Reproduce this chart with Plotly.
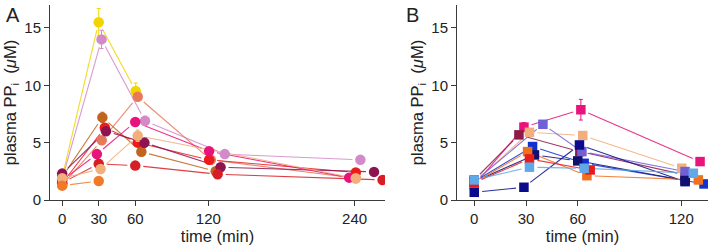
import math
import plotly.graph_objects as go

# ---------------- Panel A data (circles) ----------------
a_names = ["yellow", "orchid", "salmon", "brown", "red", "maroon", "pink", "crimson", "peach", "orange"]
a_colors = ["#F2D500", "#D28AC8", "#E8785A", "#C0641E", "#EC1C1C", "#8E1450",
            "#E8147C", "#D81E24", "#F2AE7C", "#F07A2A"]
a_times = [
    [0, 30, 60.4, None, None],
    [0, 32.3, 68, 133.5, 244.8],
    [0, 32.5, 62, 122, 241],
    [0, 33, 65, 126, None],
    [0, 35, 62, 120.6, 241],
    [0, 36, 67.5, 130, 256],
    [0, 28.5, 60, 120.6, 235.6],
    [0, 30, 60, 127.6, 263],
    [0, 31.5, 62, None, 241],
    [0, 30, None, None, None],
]
a_values = [
    [2.0, 15.5, 9.5, None, None],
    [1.8, 14.0, 6.9, 4.0, 3.5],
    [1.3, 5.2, 9.0, 3.5, 1.9],
    [2.0, 7.2, 4.2, 2.5, None],
    [1.45, 6.3, 5.0, 3.5, 2.4],
    [2.3, 6.0, 5.0, 2.85, 2.45],
    [1.7, 4.0, 6.8, 4.25, 1.95],
    [1.5, 3.15, 3.0, 2.25, 1.75],
    [1.9, 2.7, 5.6, None, 1.9],
    [1.25, 1.65, None, None, None],
]
a_errors = [
    [0, 1.2, 0.7, 0, 0],
    [0, 0.8, 0.4, 0, 0],
    [0, 0, 0, 0, 0],
    [0, 0.45, 0, 0, 0],
    [0, 0.3, 0, 0, 0],
    [0, 0, 0.4, 0, 0],
    [0, 0, 0, 0, 0],
    [0, 0, 0, 0, 0],
    [0, 0, 0.5, 0, 0],
    [0, 0, 0, 0, 0],
]

# ---------------- Panel B data (squares) ----------------
b_names = ["pink", "maroon", "peach", "purple", "navy2", "blue", "navy", "orange", "red", "lightblue"]
b_colors = ["#E8147C", "#8E1A4A", "#F2AE7C", "#7060D8", "#0A0A8C", "#1030D0",
            "#10106E", "#F07020", "#E81C1C", "#60A8E8"]
b_times = [
    [0, 28.8, 61.8, 130.9],
    [0, 25.9, 61.2, 122.2],
    [0, 32, 62.9, 120.3],
    [0, 39.8, 62.4, 122.2],
    [0, 28.8, 61, 122.2],
    [0, 33.8, 63.7, 133.2],
    [0, 34.9, 60, 122.2],
    [0, 30.9, 65.3, 129.9],
    [0, 32, 67.2, None],
    [0, 32, 63.7, 127],
]
b_values = [
    [1.3, 6.35, 7.87, 3.35],
    [1.75, 5.68, 4.22, 2.19],
    [1.5, 5.9, 5.62, 2.77],
    [1.6, 6.6, 4.22, 2.48],
    [0.67, 1.11, 4.8, 1.6],
    [1.6, 4.66, 3.2, 1.4],
    [1.6, 3.93, 3.41, 1.7],
    [1.5, 4.22, 2.12, 1.75],
    [1.5, 3.58, 2.62, None],
    [1.75, 2.86, 2.77, 2.33],
]
b_errors = [
    [0, 0.4, 0.9, 0],
    [0, 0, 0, 0],
    [0, 0, 0, 0],
    [0, 0, 0, 0],
    [0, 0, 0, 0],
    [0, 0, 0, 0],
    [0, 0, 0, 0],
    [0, 0.3, 0.3, 0],
    [0, 0, 0, 0],
    [0, 0, 0, 0],
]

a_ticks = [0, 30, 60, 120, 240]
b_ticks = [0, 30, 60, 120]

W, H = 709, 249
A_DOM = [50 / W, 385 / W]
B_DOM = [457 / W, 708 / W]
Y_DOM = [49 / H, 244 / H]
A_XR = [-10, 265]
B_XR = [-10, 135.5]
YR = [0, 17]
GAP = 8  # px gap between line ends and markers

FONT = "Arial, Liberation Sans, Helvetica, sans-serif"


def gapped(ts, vs, dom, xr):
    kx = (dom[1] - dom[0]) * W / (xr[1] - xr[0])
    ky = (Y_DOM[1] - Y_DOM[0]) * H / (YR[1] - YR[0])
    pts = [(t, v) for t, v in zip(ts, vs) if t is not None and v is not None]
    xs, ys = [], []
    for (t1, v1), (t2, v2) in zip(pts[:-1], pts[1:]):
        dx = (t2 - t1) * kx
        dy = (v2 - v1) * ky
        L = math.hypot(dx, dy)
        if L <= 2 * GAP + 1:
            continue
        f = GAP / L
        xs += [t1 + (t2 - t1) * f, t2 - (t2 - t1) * f, None]
        ys += [v1 + (v2 - v1) * f, v2 - (v2 - v1) * f, None]
    return xs, ys


fig = go.Figure()


def add_panel(times, values, errors, colors, symbol, size, xa, ya, dom, xr):
    for ts, vs, es, c in zip(times, values, errors, colors):
        lx, ly = gapped(ts, vs, dom, xr)
        fig.add_trace(go.Scatter(x=lx, y=ly, mode="lines", xaxis=xa, yaxis=ya,
                                 line=dict(color=c, width=1.1), opacity=0.85,
                                 hoverinfo="skip", showlegend=False))
    for ts, vs, es, c in zip(times, values, errors, colors):
        px = [t for t, v in zip(ts, vs) if t is not None and v is not None]
        py = [v for t, v in zip(ts, vs) if t is not None and v is not None]
        pe = [e for t, v, e in zip(ts, vs, es) if t is not None and v is not None]
        fig.add_trace(go.Scatter(x=px, y=py, mode="markers", xaxis=xa, yaxis=ya,
                                 marker=dict(color=c, size=size, symbol=symbol,
                                             line=dict(width=0)),
                                 error_y=dict(type="data", array=pe, visible=True,
                                              color=c, thickness=1, width=2),
                                 showlegend=False))


add_panel(a_times, a_values, a_errors, a_colors, "circle", 10.5, "x", "y", A_DOM, A_XR)
add_panel(b_times, b_values, b_errors, b_colors, "square", 9.5, "x2", "y2", B_DOM, B_XR)

axis_common = dict(showgrid=False, zeroline=False, showline=True, linecolor="#3a3a3a",
                   linewidth=1, ticks="outside", ticklen=5, tickcolor="#3a3a3a",
                   automargin=False,
                   tickfont=dict(size=15, color="#222", family=FONT))

ytitle = "plasma PP<sub>i</sub>  (<i>μ</i>M)"
TF = dict(size=16.5, color="#222", family=FONT)
fig.update_layout(
    width=W, height=H, margin=dict(l=0, r=0, t=0, b=0, autoexpand=False),
    paper_bgcolor="white", plot_bgcolor="white",
    font=dict(family=FONT, color="#222"),
    xaxis=dict(domain=A_DOM, range=A_XR, tickvals=a_ticks, anchor="y",
               title=dict(text="time (min)", font=TF, standoff=3), **axis_common),
    yaxis=dict(domain=Y_DOM, range=YR, tickvals=[0, 5, 10, 15], anchor="x",
               title=dict(text=ytitle, font=TF, standoff=3), **axis_common),
    xaxis2=dict(domain=B_DOM, range=B_XR, tickvals=b_ticks, anchor="y2",
                title=dict(text="time (min)", font=TF, standoff=3), **axis_common),
    yaxis2=dict(domain=Y_DOM, range=YR, tickvals=[0, 5, 10, 15], anchor="x2",
                title=dict(text=ytitle, font=TF, standoff=3), **axis_common),
    annotations=[
        dict(text="A", x=4 / W, y=1 - 2 / H, xref="paper", yref="paper",
             xanchor="left", yanchor="top", showarrow=False, font=dict(size=20, color="#222")),
        dict(text="B", x=404 / W, y=1 - 2 / H, xref="paper", yref="paper",
             xanchor="left", yanchor="top", showarrow=False, font=dict(size=20, color="#222")),
    ],
)

fig.write_html("out.html", config={"displayModeBar": False},
               post_script="document.body.style.margin='0';document.body.style.overflow='hidden';")
